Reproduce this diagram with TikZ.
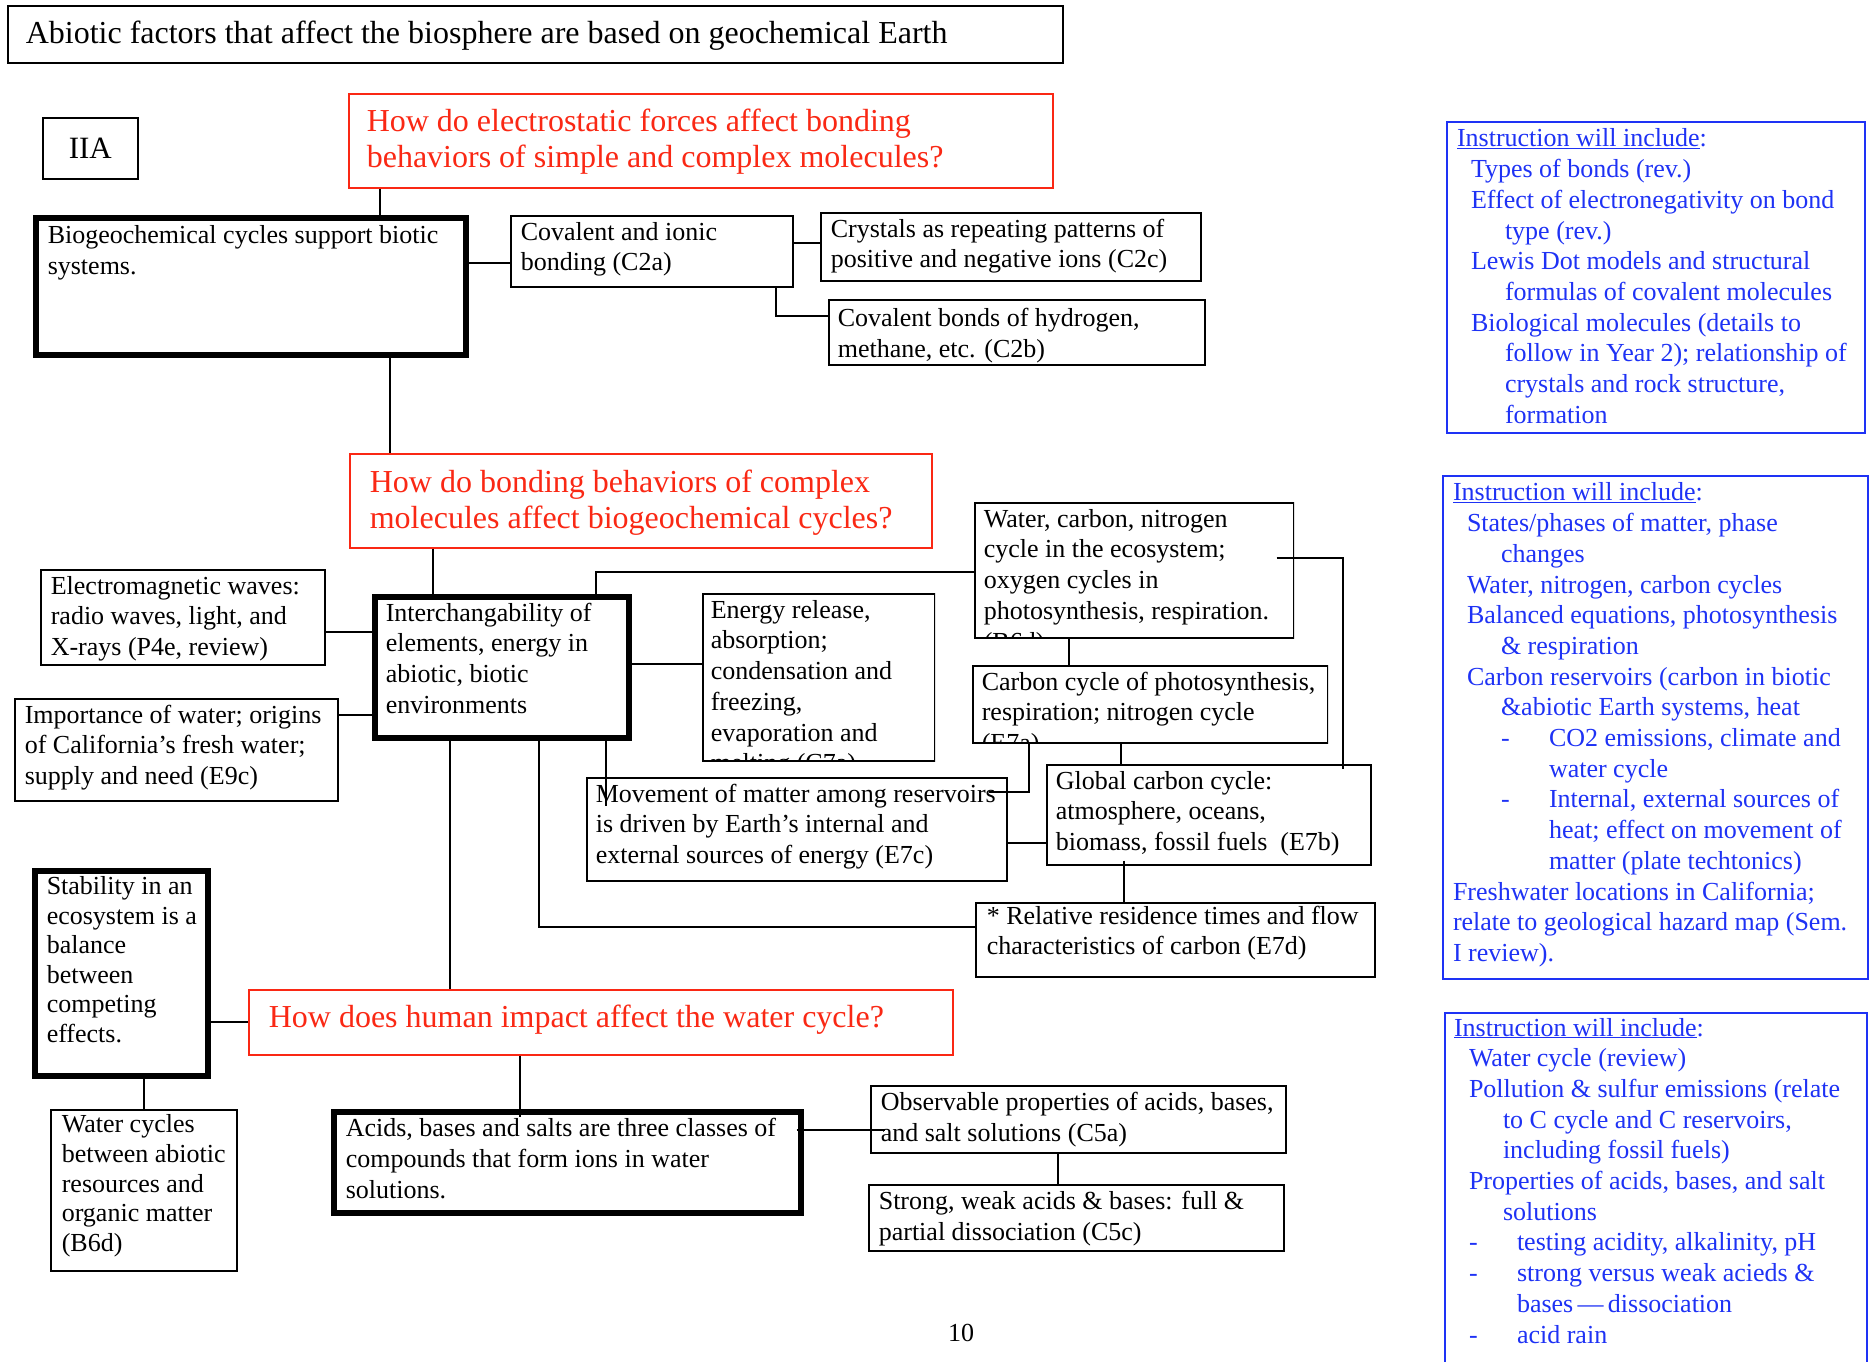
\documentclass[tikz,border=0pt]{standalone}
\usepackage{fontspec}
\setmainfont{Liberation Serif}
\definecolor{rouge}{RGB}{250,40,20}
\definecolor{bleu}{RGB}{30,50,245}
\hfuzz=400pt \vfuzz=400pt \hbadness=10000 \vbadness=10000
% bloc de texte : [espace haut]{marge gauche}{largeur}{hauteur}{texte}
\newcommand{\bloc}[5][3pt]{%
  \parbox[c][#4pt][t]{#3pt}{\vspace*{#1}\leftskip=#2pt\strut#5}}

\begin{document}
\begin{tikzpicture}[x=1pt, y=-1pt,
    cadre/.style={draw, line width=1.6pt, inner sep=0pt, anchor=north west,
      font=\fontsize{26}{30.7}\selectfont},
    epais/.style={cadre, line width=5.5pt},
    question/.style={cadre, draw=rouge, text=rouge, font=\fontsize{32}{36}\selectfont},
    consigne/.style={cadre, draw=bleu, text=bleu, line width=2pt},
    lien/.style={line width=1.6pt}]
    \path[use as bounding box, fill=white] (0,0) rectangle (1869,1362);
    \clip (0,0) rectangle (1869,1362);

    % Titre
    \node[cadre, font=\fontsize{32}{36}\selectfont] (titre) at (7,5)
    {\bloc[12.6pt]{18}{1055}{57}{Abiotic factors that affect the biosphere are based on geochemical Earth}};
    \node[cadre, minimum width=95pt, minimum height=61pt,
      font=\fontsize{31}{36}\selectfont] (iia) at (42,117) {IIA};

    % Questions
    \node[question] (q1) at (348,93)
    {\bloc[12.5pt]{18}{704}{94}{How do electrostatic forces affect bonding\\behaviors of simple and complex molecules?}};
    \node[question] (q2) at (349,453)
    {\bloc[13.5pt]{20}{582}{94}{How do bonding behaviors of complex\\molecules affect biogeochemical cycles?}};
    \node[question] (q3) at (248,989)
    {\bloc[12.5pt]{20}{704}{65}{How does human impact affect the water cycle?}};

    % Liaisons
    \node[epais] (biogeo) at (33,215)
    {\bloc[4.5pt]{12}{430}{137}{Biogeochemical cycles support biotic\\systems.}};
    \node[cadre] (liaison) at (510,215) {\bloc{10}{282}{71}{Covalent and ionic\\bonding (C2a)}};
    \node[cadre] (cristaux) at (820,212)
    {\bloc{10}{380}{68}{Crystals as repeating patterns of\\positive and negative ions (C2c)}};
    \node[cadre] (covalent) at (828,299)
    {\bloc[5.5pt]{9}{376}{65}{Covalent bonds of hydrogen,\\methane, etc. (C2b)}};

    % Cycles
    \node[cadre] (ondes) at (40,569)
    {\bloc{10}{284}{95}{Electromagnetic waves:\\radio waves, light, and\\X-rays (P4e, review)}};
    \node[epais] (interch) at (372,594)
    {\bloc[3pt]{11}{254}{141}{Interchangability of\\elements, energy in\\abiotic, biotic\\environments}};
    \node[cadre] (eau) at (14,698)
    {\bloc{10}{323}{102}{Importance of water; origins\\of California’s fresh water;\\supply and need (E9c)}};
    \begin{scope}
      \clip (701,592) rectangle (935,761);
      \node[cadre] (energie) at (702,593)
      {\bloc{8}{232}{167}{Energy release,\\absorption;\\condensation and\\freezing,\\evaporation and\\melting (C7a)}};
    \end{scope}
    \begin{scope}
      \clip (973,501) rectangle (1294,638);
      \node[cadre] (cycles) at (974,502)
      {\bloc{9}{319}{135}{Water, carbon, nitrogen\\cycle in the ecosystem;\\oxygen cycles in\\photosynthesis, respiration.\\(B6d)}};
    \end{scope}
    \begin{scope}
      \clip (971,664) rectangle (1328,743);
      \node[cadre] (carbone) at (972,665)
      {\bloc{9}{355}{77}{Carbon cycle of photosynthesis,\\respiration; nitrogen cycle\\(E7a)}};
    \end{scope}
    \node[cadre] (mouvement) at (586,777)
    {\bloc{9}{420}{103}{Movement of matter among reservoirs\\is driven by Earth’s internal and\\external sources of energy (E7c)}};
    \node[cadre] (global) at (1046,764)
    {\bloc{9}{324}{100}{Global carbon cycle:\\atmosphere, oceans,\\biomass, fossil fuels\ \ (E7b)}};
    \node[cadre] (residence) at (975,902)
    {\bloc[0pt]{11}{399}{74}{* Relative residence times and flow\\characteristics of carbon (E7d)}};

    % Eau
    \node[epais, font=\fontsize{26}{29.6}\selectfont] (stabilite) at (32,868)
    {\bloc{12}{173}{205}{Stability in an\\ecosystem is a\\balance\\between\\competing\\effects.}};
    \node[cadre, font=\fontsize{26}{29.7}\selectfont] (cycleseau) at (50,1109)
    {\bloc[2pt]{11}{186}{161}{Water cycles\\between abiotic\\resources and\\organic matter\\(B6d)}};
    \node[epais] (acides) at (331,1109)
    {\bloc[3.5pt]{12}{467}{101}{Acids, bases and salts are three classes of\\compounds that form ions in water\\solutions.}};
    \node[cadre] (proprietes) at (870,1085)
    {\bloc{10}{415}{67}{Observable properties of acids, bases,\\and salt solutions (C5a)}};
    \node[cadre] (forts) at (868,1184)
    {\bloc{10}{415}{66}{Strong, weak acids \& bases: full \&\\partial dissociation (C5c)}};

    % Consignes
    \node[consigne] (instr1) at (1446,121) {\bloc[3.5pt]{10}{418}{311}{%
      \underline{Instruction will include}:\\
      \hspace*{14pt}Types of bonds (rev.)\\
      \hspace*{14pt}Effect of electronegativity on bond\\
      \hspace*{48pt}type (rev.)\\
      \hspace*{14pt}Lewis Dot models and structural\\
      \hspace*{48pt}formulas of covalent molecules\\
      \hspace*{14pt}Biological molecules (details to\\
      \hspace*{48pt}follow in Year 2); relationship of\\
      \hspace*{48pt}crystals and rock structure,\\
      \hspace*{48pt}formation}};
    \node[consigne] (instr2) at (1442,475) {\bloc[3.5pt]{10}{425}{503}{%
      \underline{Instruction will include}:\\
      \hspace*{14pt}States/phases of matter, phase\\
      \hspace*{48pt}changes\\
      \hspace*{14pt}Water, nitrogen, carbon cycles\\
      \hspace*{14pt}Balanced equations, photosynthesis\\
      \hspace*{48pt}\& respiration\\
      \hspace*{14pt}Carbon reservoirs (carbon in biotic\\
      \hspace*{48pt}\&abiotic Earth systems, heat\\
      \hspace*{48pt}\makebox[48pt][l]{-}CO2 emissions, climate and\\
      \hspace*{96pt}water cycle\\
      \hspace*{48pt}\makebox[48pt][l]{-}Internal, external sources of\\
      \hspace*{96pt}heat; effect on movement of\\
      \hspace*{96pt}matter (plate techtonics)\\
      Freshwater locations in California;\\
      relate to geological hazard map (Sem.\\
      I review).}};
    \node[consigne] (instr3) at (1444,1012) {\bloc[1.5pt]{9}{422}{368}{%
      \underline{Instruction will include}:\\
      \hspace*{15pt}Water cycle (review)\\
      \hspace*{15pt}Pollution \& sulfur emissions (relate\\
      \hspace*{49pt}to C cycle and C reservoirs,\\
      \hspace*{49pt}including fossil fuels)\\
      \hspace*{15pt}Properties of acids, bases, and salt\\
      \hspace*{49pt}solutions\\
      \hspace*{15pt}\makebox[48pt][l]{-}testing acidity, alkalinity, pH\\
      \hspace*{15pt}\makebox[48pt][l]{-}strong versus weak acieds \&\\
      \hspace*{63pt}bases\,—\,dissociation\\
      \hspace*{15pt}\makebox[48pt][l]{-}acid rain}};

    \node[font=\fontsize{26}{30.7}\selectfont] (page) at (961,1333) {10};

    % Liens
    \draw[lien] (q1.south -| 380,0) -- (biogeo.north -| 380,0);
    \draw[lien] (biogeo.east |- 0,263) -- (liaison.west |- 0,263);
    \draw[lien] (liaison.east |- 0,243) -- (cristaux.west |- 0,243);
    \draw[lien] (liaison.south -| 776,0) |- (covalent.west |- 0,316);
    \draw[lien] (biogeo.south -| 390,0) -- (q2.north -| 390,0);
    \draw[lien] (q2.south -| 433,0) -- (interch.north -| 433,0);
    \draw[lien] (ondes.east |- 0,632) -- (interch.west |- 0,632);
    \draw[lien] (eau.east |- 0,715) -- (interch.west |- 0,715);
    \draw[lien] (interch.east |- 0,664) -- (energie.west |- 0,664);
    \draw[lien] (interch.north -| 596,0) |- (cycles.west |- 0,572);
    \draw[lien] (cycles.south -| 1069,0) -- (carbone.north -| 1069,0);
    \draw[lien] (cycles.east |- 0,558) ++(-18,0) -| (global.north -| 1343,0) -- ++(0,5);
    \draw[lien] (carbone.south -| 1121,0) -- (global.north -| 1121,0);
    \draw[lien] (carbone.south -| 1029,0) |- (mouvement.east |- 0,792) -- ++(-19,0);
    \draw[lien] (mouvement.east |- 0,843) -- (global.west |- 0,843);
    \draw[lien] (global.south -| 1124,0) ++(0,-5) -- (residence.north -| 1124,0);
    \draw[lien] (interch.south -| 539,0) |- (residence.west |- 0,927);
    \draw[lien] (interch.south -| 606,0) -- (mouvement.north -| 606,0) -- ++(0,29);
    \draw[lien] (interch.south -| 450,0) -- (q3.north -| 450,0);
    \draw[lien] (stabilite.east |- 0,1022) -- (q3.west |- 0,1022);
    \draw[lien] (q3.south -| 520,0) -- (acides.north -| 520,0) -- ++(0,8);
    \draw[lien] (acides.east |- 0,1130) ++(-7,0) -- (proprietes.west |- 0,1130) -- ++(15,0);
    \draw[lien] (proprietes.south -| 1058,0) -- (forts.north -| 1058,0);
    \draw[lien] (stabilite.south -| 144,0) -- (cycleseau.north -| 144,0);
\end{tikzpicture}
\end{document}
